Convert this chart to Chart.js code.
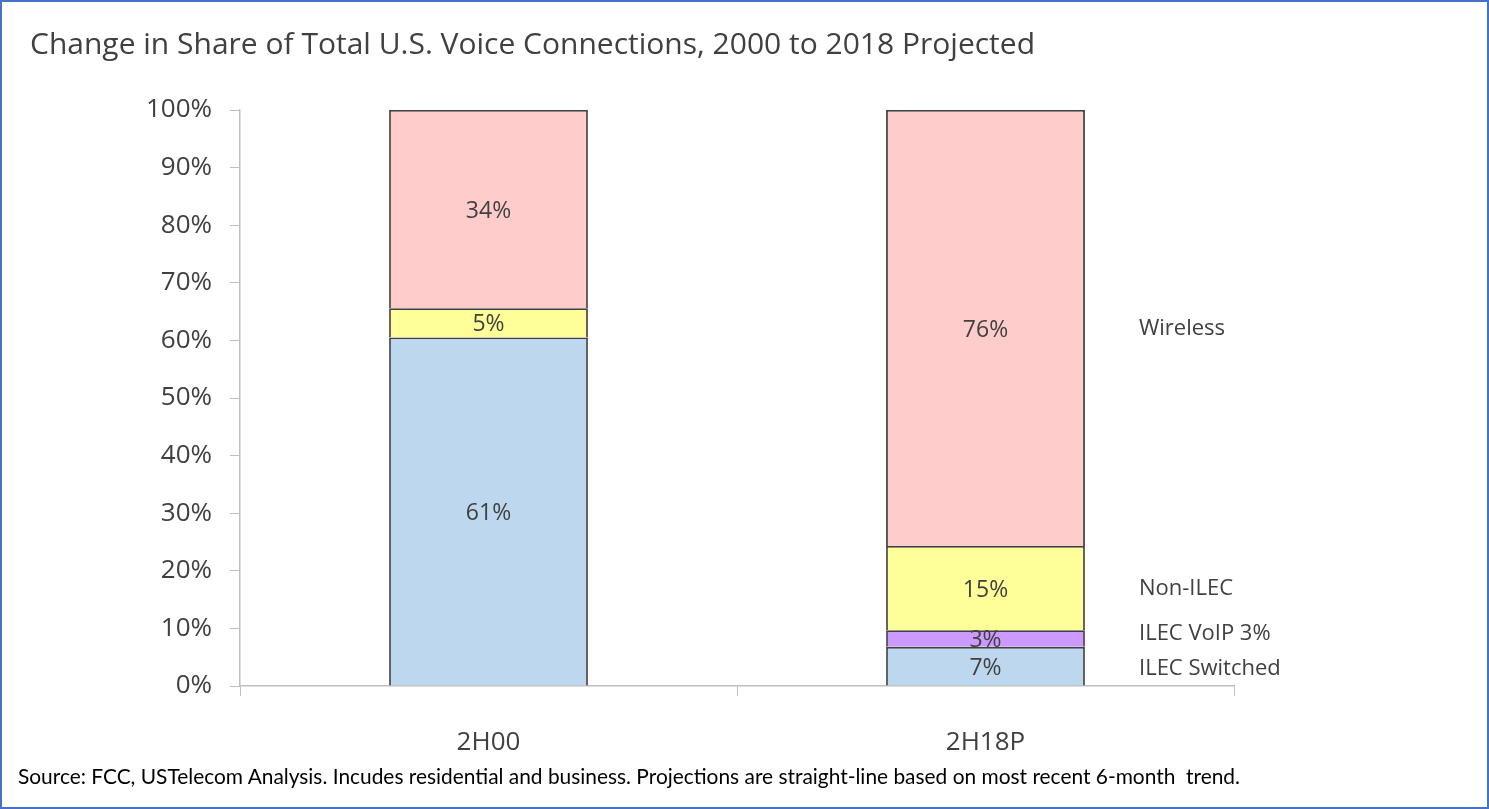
<!DOCTYPE html>
<html>
<head>
<meta charset="utf-8">
<script src="https://cdn.jsdelivr.net/npm/chart.js@4.4.1/dist/chart.umd.min.js"></script>
<style>
  html, body { margin: 0; padding: 0; background: #fff; }
  #frame { position: relative; width: 1489px; height: 809px; box-sizing: border-box; border: 2px solid #4472C4; overflow: hidden; }
  #title { position: absolute; left: 28px; top: 20px; font: 30px "Open Sans", sans-serif; color: #404040; white-space: nowrap; }
  #source { position: absolute; left: 16px; top: 761px; font: 20.9px Lato, sans-serif; color: #000; white-space: nowrap; }
  #chartBox { position: absolute; left: -2px; top: -2px; width: 1489px; height: 809px; }
</style>
</head>
<body>
<div id="frame">
  <div id="chartBox"><canvas id="voiceChart"></canvas></div>
  <div id="title">Change in Share of Total U.S. Voice Connections, 2000 to 2018 Projected</div>
  <div id="source">Source: FCC, USTelecom Analysis. Incudes residential and business. Projections are straight-line based on most recent 6-month&nbsp; trend.</div>
</div>
<script>
// data
const periods = ['2H00', '2H18P'];
const ilecSwitched = [60.5, 6.8];
const ilecVoip = [0, 2.9];
const nonIlec = [5.1, 14.6];
const wireless = [34.4, 75.7];
const sideLabels = ['ILEC Switched', 'ILEC VoIP 3%', 'Non-ILEC', 'Wireless'];
const yTicks = [0, 10, 20, 30, 40, 50, 60, 70, 80, 90, 100];

const textColor = '#404040';

// percentages inside the bars + series names to the right of the last bar
const barLabels = {
  id: 'barLabels',
  afterDatasetsDraw(chart) {
    const ctx = chart.ctx;
    ctx.save();
    ctx.fillStyle = textColor;
    ctx.textBaseline = 'middle';
    chart.data.datasets.forEach((ds, i) => {
      const meta = chart.getDatasetMeta(i);
      meta.data.forEach((bar, j) => {
        const v = ds.data[j];
        if (!v) return;
        const y = (bar.y + bar.base) / 2;
        ctx.font = '23px "Open Sans", sans-serif';
        ctx.textAlign = 'center';
        ctx.fillText(Math.round(v) + '%', bar.x, y + 2);
        if (j === periods.length - 1) {
          ctx.font = '22px "Open Sans", sans-serif';
          ctx.textAlign = 'left';
          let dy = 1;
          if (i === 1) dy = -5;
          if (i === 0) dy = 3;
          ctx.fillText(sideLabels[i], 1139, y + dy);
        }
      });
    });
    ctx.restore();
  }
};

const border = { color: '#404040', width: 1.8 };

new Chart(document.getElementById('voiceChart'), {
  type: 'bar',
  data: {
    labels: periods,
    datasets: [
      { label: 'ILEC Switched', data: ilecSwitched, backgroundColor: '#BDD7EE', borderColor: border.color, borderWidth: border.width },
      { label: 'ILEC VoIP', data: ilecVoip, backgroundColor: '#CC99FF', borderColor: border.color, borderWidth: border.width },
      { label: 'Non-ILEC', data: nonIlec, backgroundColor: '#FFFF99', borderColor: border.color, borderWidth: border.width },
      { label: 'Wireless', data: wireless, backgroundColor: '#FFCCCC', borderColor: border.color, borderWidth: border.width }
    ]
  },
  options: {
    responsive: true,
    maintainAspectRatio: false,
    animation: false,
    layout: { padding: { top: 110, right: 255, left: 0, bottom: 0 } },
    datasets: { bar: { categoryPercentage: 1, barPercentage: 0.4 } },
    plugins: { legend: { display: false }, tooltip: { enabled: false } },
    scales: {
      x: {
        stacked: true,
        grid: { drawOnChartArea: false, offset: true, tickLength: 10, color: '#BFBFBF' },
        border: { color: '#BFBFBF', width: 1.5 },
        ticks: { color: textColor, font: { family: '"Open Sans", sans-serif', size: 26 }, padding: 31 },
        afterFit(scale) { scale.height = 123; }
      },
      y: {
        stacked: true,
        min: 0,
        max: 100,
        afterBuildTicks(scale) { scale.ticks = yTicks.map(v => ({ value: v })); },
        grid: { drawOnChartArea: false, tickLength: 10, color: '#BFBFBF' },
        border: { color: '#BFBFBF', width: 1.5 },
        ticks: { color: textColor, font: { family: '"Open Sans", sans-serif', size: 26 }, padding: 18, callback: v => v + '%' },
        afterFit(scale) { scale.width = 240; }
      }
    }
  },
  plugins: [barLabels]
});
</script>
</body>
</html>
